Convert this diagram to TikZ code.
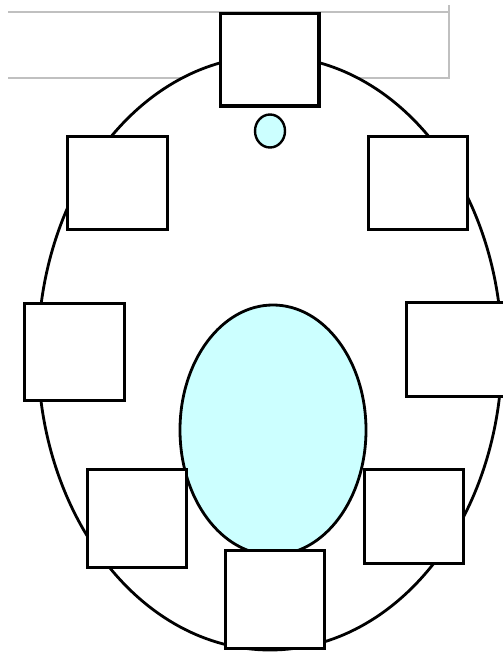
\documentclass[tikz,border=0pt]{standalone}
\usetikzlibrary{shapes.geometric}
\definecolor{lightcyan}{RGB}{204,255,255}
\definecolor{framegray}{RGB}{192,192,192}
\tikzset{
  seat/.style={draw=black, line width=3.4pt, fill=white, inner sep=0pt, outer sep=0pt, anchor=north west},
  ring/.style={draw=black, line width=2.8pt},
  frameline/.style={draw=framegray, line width=2.8pt},
}
\begin{document}
\begin{tikzpicture}[x=1pt,y=-1pt]
\useasboundingbox (0,0) rectangle (503,656);
% gray frame (open on the left)
\draw[frameline] (8,12) -- (449,12);
\draw[frameline] (449,5) -- (449,79);
\draw[frameline] (8,78) -- (449,78);
% outer ellipse
\draw[ring, fill=white] (270,353) ellipse [x radius=232, y radius=297];
% small ellipse
\node[ring, line width=2.4pt, fill=lightcyan, ellipse, minimum width=30pt, minimum height=33pt, inner sep=0pt, outer sep=0pt] (dot) at (270,131) {};
% central ellipse
\draw[ring, fill=lightcyan] (273,430) ellipse [x radius=93, y radius=125];
% squares
\node[seat, minimum width=98.5pt, minimum height=92.5pt] (top) at (220.5,13.5) {};
\node[seat, minimum width=100pt, minimum height=93pt] (tl) at (67.5,136.5) {};
\node[seat, minimum width=99pt, minimum height=93pt] (tr) at (368.5,136.5) {};
\node[seat, minimum width=100pt, minimum height=97pt] (l) at (24.5,303.5) {};
\node[seat, minimum width=100pt, minimum height=94pt] (r) at (406.5,302.5) {};
\node[seat, minimum width=99pt, minimum height=98pt] (bl) at (87.5,469.5) {};
\node[seat, minimum width=99pt, minimum height=94pt] (br) at (364.5,469.5) {};
\node[seat, minimum width=99pt, minimum height=98pt] (b) at (225.5,550.5) {};
\end{tikzpicture}
\end{document}
